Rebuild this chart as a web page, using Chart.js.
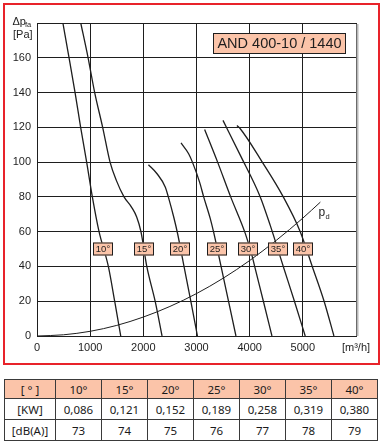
<!DOCTYPE html>
<html>
<head>
<meta charset="utf-8">
<script src="https://cdn.jsdelivr.net/npm/chart.js@4.4.1/dist/chart.umd.min.js"></script>
<style>
  html, body { margin: 0; padding: 0; background: #fff; }
  body { width: 381px; height: 444px; position: relative; overflow: hidden; }
  #frame { position: absolute; left: 3px; top: 3px; width: 373px; height: 358px; border: 2px solid #e8232a; }
  #chart { position: absolute; left: 0; top: 0; }
  table { position: absolute; left: 4px; top: 379px; border-collapse: collapse; font-family: "Noto Sans", sans-serif; font-size: 11.5px; color: #1a1a1a; }
  td { border: 1px solid #3a3a3a; text-align: center; padding: 0; width: 45px; height: 20px; }
  td:first-child { width: 50px; }
  tr.head td { background: #fbc4a9; height: 18px; }
</style>
</head>
<body>
<div id="frame"></div>
<canvas id="chart" width="381" height="370"></canvas>
<table id="specs"></table>
<script>
// pressure curves per blade angle: [flow m3/h, pressure Pa]
const curve10 = [[487,180],[603,160],[716,140],[821,120],[934,100],[1041,80],[1167,60],[1342,40],[1461,20],[1575,0]];
const curve15 = [[823,180],[961,160],[1085,140],[1235,120],[1374,100],[1492,89.5],[1637,80],[1780,74],[1875,68.4],[1955,60],[2065,40],[2222,20],[2352,0]];
const curve20 = [[2096,98.5],[2258,93.3],[2414,85.6],[2470,80],[2575,68],[2645,58.8],[2765,40],[2893,20],[3018,0]];
const curve25 = [[2709,111],[2852,104.8],[2927,99.7],[3058,88.5],[3135,80],[3259,67.5],[3320,60],[3462,40],[3602,20],[3742,0]];
const curve30 = [[3153,118.8],[3397,100],[3643,80],[3917,59],[4043,46.4],[4094,40],[4258,20],[4419,0]];
const curve35 = [[3498,124],[3823,104],[4199,80],[4387,63.6],[4632,40],[4842,20],[5045,0]];
const curve40 = [[3761,121],[3823,119.2],[4237,100],[4632,80],[4951,60],[5177,40],[5400,20],[5585,0]];
// dynamic pressure pd
const curvePd = [[0,0],[500,0.7],[1000,2.7],[1500,6.1],[2000,10.9],[2500,17],[3000,24.4],[3500,33.2],[4000,43.4],[4500,55],[5000,67.8],[5330,77]];

const bladeAngles = [10, 15, 20, 25, 30, 35, 40];
const bladeCurves = [curve10, curve15, curve20, curve25, curve30, curve35, curve40];
const labelFlow = [1246, 2009, 2695, 3392, 3963, 4527, 5010];
const labelPressure = 50;

const powerKW = ['0,086', '0,121', '0,152', '0,189', '0,258', '0,319', '0,380'];
const noiseDB = [73, 74, 75, 76, 77, 78, 79];

const xTicks = [0, 1000, 2000, 3000, 4000, 5000, 6000];
const yTicks = [0, 20, 40, 60, 80, 100, 120, 140, 160, 180];

const INK = '#1e1e1e';
const SALMON = '#fbc4a9';
const FONT = '"Liberation Sans", Arial, sans-serif';

// --- table below the chart ---
const table = document.getElementById('specs');
const rows = [
  ['[ ° ]'].concat(bladeAngles.map(a => a + '°')),
  ['[KW]'].concat(powerKW),
  ['[dB(A)]'].concat(noiseDB.map(String))
];
rows.forEach((r, i) => {
  const tr = document.createElement('tr');
  if (i === 0) tr.className = 'head';
  r.forEach(t => { const td = document.createElement('td'); td.textContent = t; tr.appendChild(td); });
  table.appendChild(tr);
});

const toXY = arr => arr.map(p => ({ x: p[0], y: p[1] }));

const datasets = bladeCurves.map((c, i) => ({
  label: bladeAngles[i] + '°',
  data: toXY(c),
  borderColor: INK,
  borderWidth: 1.3,
  pointRadius: 0,
  showLine: true,
  cubicInterpolationMode: 'monotone'
}));
datasets.push({
  label: 'pd',
  data: toXY(curvePd),
  borderColor: INK,
  borderWidth: 1,
  pointRadius: 0,
  showLine: true,
  cubicInterpolationMode: 'monotone'
});

// labels, title box and axis caption
const overlay = {
  id: 'overlay',
  afterDatasetsDraw(chart) {
    const { ctx, chartArea: a, scales: { x, y } } = chart;
    ctx.save();

    // grey shadow on the right edge
    ctx.strokeStyle = '#b8b8b8';
    ctx.lineWidth = 2;
    ctx.beginPath();
    ctx.moveTo(a.right + 1.5, a.top + 1);
    ctx.lineTo(a.right + 1.5, a.bottom);
    ctx.stroke();

    // blade angle tags
    ctx.textAlign = 'center';
    ctx.textBaseline = 'middle';
    ctx.font = '9.5px ' + FONT;
    bladeAngles.forEach((ang, i) => {
      const cx = Math.round(x.getPixelForValue(labelFlow[i]));
      const cy = Math.round(y.getPixelForValue(labelPressure));
      ctx.fillStyle = SALMON;
      ctx.fillRect(cx - 10, cy - 6.5, 20, 13);
      ctx.strokeStyle = INK;
      ctx.lineWidth = 1;
      ctx.strokeRect(cx - 9.5, cy - 6, 19, 12);
      ctx.fillStyle = INK;
      ctx.fillText(ang + '°', cx, cy + 0.5);
    });

    // model title box
    const tx = a.right - 143, ty = a.top + 10;
    ctx.fillStyle = SALMON;
    ctx.fillRect(tx, ty, 133, 21);
    ctx.strokeStyle = INK;
    ctx.strokeRect(tx + 0.5, ty + 0.5, 132, 20);
    ctx.fillStyle = INK;
    ctx.font = '14.5px ' + FONT;
    ctx.fillText('AND 400-10 / 1440', tx + 66.5, ty + 11);

    // pd label
    const px = x.getPixelForValue(5330) - 2, py = y.getPixelForValue(77);
    ctx.textAlign = 'left';
    ctx.textBaseline = 'alphabetic';
    ctx.font = '12px ' + FONT;
    ctx.fillText('p', px, py + 14);
    ctx.font = '7.5px ' + FONT;
    ctx.fillText('d', px + 7, py + 17);

    // y axis caption
    ctx.font = '11px ' + FONT;
    ctx.fillText('\u0394p', 12.5, 25);
    ctx.font = '7.5px ' + FONT;
    ctx.fillText('fa', 25, 27);
    ctx.font = '11px ' + FONT;
    ctx.fillText('[Pa]', 13, 38);

    ctx.restore();
  }
};

new Chart(document.getElementById('chart'), {
  type: 'scatter',
  data: { datasets },
  plugins: [overlay],
  options: {
    responsive: false,
    animation: false,
    layout: { padding: { left: 0, top: 23, right: 25, bottom: 0 } },
    plugins: {
      legend: { display: false },
      tooltip: { enabled: false }
    },
    scales: {
      x: {
        type: 'linear',
        min: 0,
        max: 6000,
        afterBuildTicks: s => { s.ticks = xTicks.map(v => ({ value: v })); },
        afterFit: s => { s.height = 34; },
        grid: { color: INK, lineWidth: 1, drawTicks: false },
        border: { color: INK, width: 1 },
        ticks: {
          padding: 5,
          color: INK,
          font: { family: FONT, size: 11 },
          maxRotation: 0,
          callback: v => v === 6000 ? '[m³/h]' : v
        }
      },
      y: {
        min: 0,
        max: 180,
        afterBuildTicks: s => { s.ticks = yTicks.map(v => ({ value: v })); },
        afterFit: s => { s.width = 37; },
        grid: { color: INK, lineWidth: 1, drawTicks: false },
        border: { color: INK, width: 1 },
        ticks: {
          padding: 6,
          color: INK,
          font: { family: FONT, size: 11 },
          callback: v => v === 180 ? '' : v
        }
      }
    }
  }
});
</script>
</body>
</html>
